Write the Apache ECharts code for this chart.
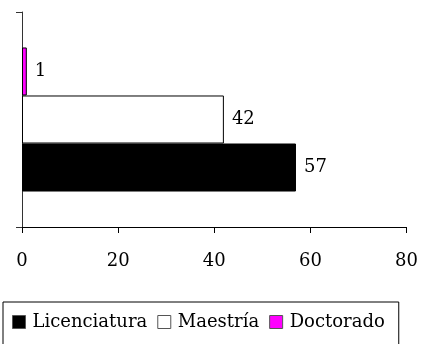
<!DOCTYPE html>
<html>
<head>
<meta charset="utf-8">
<script src="https://cdn.jsdelivr.net/npm/echarts@6/dist/echarts.min.js"></script>
<style>html,body{margin:0;padding:0;background:#fff}#chart{width:421px;height:344px}</style>
</head>
<body>
<div id="chart"></div>
<script>
var categories = [''];
var seriesNames = ['Licenciatura', 'Maestría', 'Doctorado'];
var seriesValues = [[57], [42], [1]];
var seriesColors = ['#000000', '#ffffff', '#ff00ff'];
var xTicks = [0, 20, 40, 60, 80];

var font = 'DejaVu Serif';
var myChart = echarts.init(document.getElementById('chart'));

// first series is drawn at the top of the band, so add them in reverse
var series = [];
for (var i = seriesNames.length - 1; i >= 0; i--) {
    series.push({
        name: seriesNames[i],
        type: 'bar',
        data: seriesValues[i],
        barGap: '0%',
        barCategoryGap: '33%',
        itemStyle: { color: seriesColors[i], borderColor: '#000', borderWidth: 1 },
        label: {
            show: true, position: 'right', distance: 8,
            color: '#000', fontFamily: font, fontSize: 18
        }
    });
}

var option = {
    animation: false,
    textStyle: { fontFamily: font },
    grid: { left: 22, right: 14, top: 12, bottom: 117, containLabel: false },
    xAxis: {
        type: 'value', min: xTicks[0], max: xTicks[xTicks.length - 1], interval: 20,
        splitLine: { show: false },
        axisLine: { show: true, lineStyle: { color: '#000', width: 1 } },
        axisTick: { show: true, length: 6, lineStyle: { color: '#000' } },
        axisLabel: { color: '#000', fontFamily: font, fontSize: 18, margin: 25 }
    },
    yAxis: {
        type: 'category', data: categories,
        axisLine: { show: true, onZero: false, lineStyle: { color: '#333', width: 1 } },
        axisTick: { show: true, length: 6, lineStyle: { color: '#333' } },
        axisLabel: { show: false }
    },
    legend: {
        left: 3, top: 302,
        borderColor: '#000', borderWidth: 1,
        padding: [11, 14, 20, 9],
        itemWidth: 13, itemHeight: 13, itemGap: 10,
        icon: 'rect',
        itemStyle: { borderColor: '#555', borderWidth: 1 },
        textStyle: { color: '#000', fontFamily: font, fontSize: 18, padding: [0, 0, 0, 2] },
        data: seriesNames
    },
    series: series
};

myChart.setOption(option);
</script>
</body>
</html>
